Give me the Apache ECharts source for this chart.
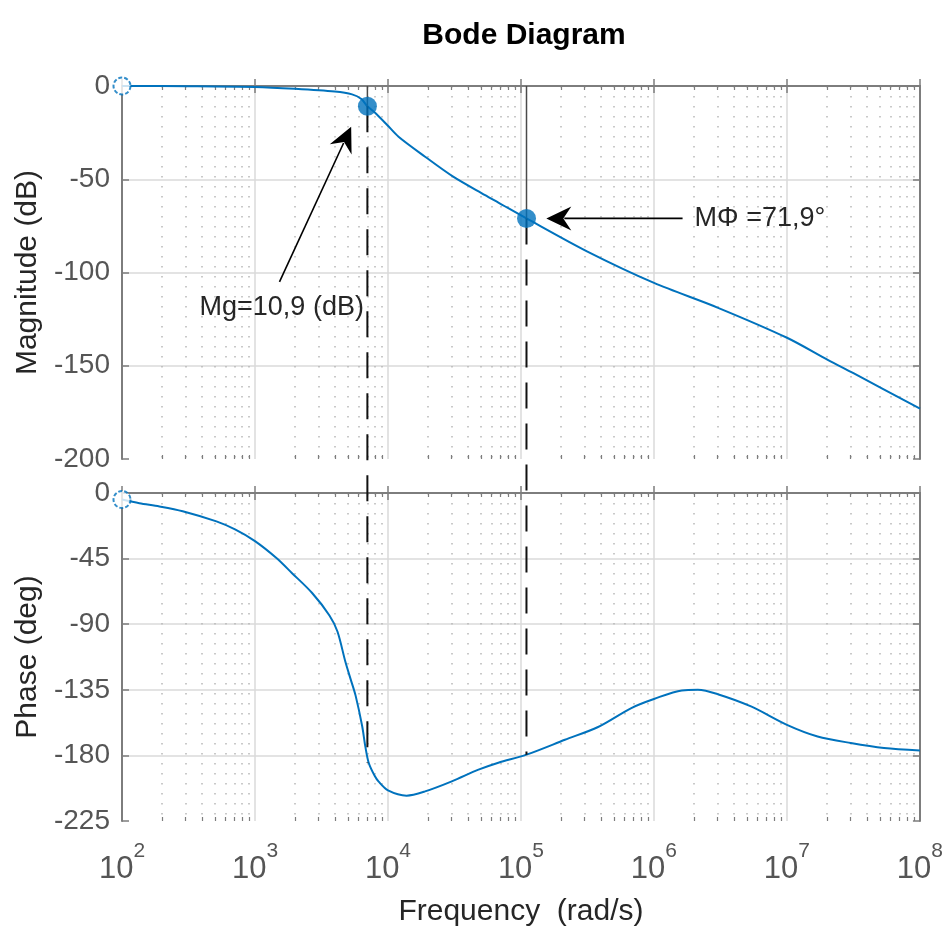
<!DOCTYPE html>
<html><head><meta charset="utf-8">
<script src="https://cdn.jsdelivr.net/npm/echarts@6/dist/echarts.min.js"></script>
<style>html,body{margin:0;padding:0;background:#fff}#c{width:946px;height:932px}</style>
</head><body><div id="c"></div>
<script>
// ---- data ----
const titleText = 'Bode Diagram';
const xName = 'Frequency  (rad/s)';
const magName = 'Magnitude (dB)';
const phaseName = 'Phase (deg)';
const xTicks = [1e2, 1e3, 1e4, 1e5, 1e6, 1e7, 1e8];
const magTicks = [-200, -150, -100, -50, 0];
const phaseTicks = [-225, -180, -135, -90, -45, 0];

const magFreq = [100, 316, 1000, 2000, 3980, 5370, 6310, 7000, 8070, 9860, 12000, 19000, 30900, 53700, 67600, 110000, 316000, 1000000, 3000000, 10000000, 20400000, 31600000, 100000000];
const magDb   = [0, -0.1, -0.5, -1.5, -3, -4.5, -7, -10.9, -14.6, -20.9, -27.2, -37.9, -48.6, -58.5, -62.5, -71, -88.8, -105.6, -118.8, -135, -147, -154, -173];

const phaseFreq = [100, 135, 191, 286, 513, 708, 1000, 1450, 1900, 2690, 3630, 4170, 4790, 5250, 5710, 6400, 6760, 7160, 7940, 8510, 10000, 13800, 19000, 30200, 47900, 67600, 110000, 214000, 380000, 676000, 1000000, 1620000, 2140000, 3020000, 5370000, 10000000, 17000000, 30200000, 53700000, 100000000];
const phaseDeg  = [-4.5, -7, -9.2, -12.5, -19.5, -25, -33, -44.6, -55, -68.6, -84, -95, -116, -128, -139, -160, -174, -185, -194, -198, -204, -207.6, -204.7, -197.8, -189.8, -185, -179.5, -169.3, -160.5, -147.5, -141.3, -135.4, -135, -138, -146.4, -159, -167, -171.5, -174.9, -176.6];

// gain margin / phase margin points and annotations
const gmFreq = 7000, gmMag = -10.9, gmPhase = -185;
const pmFreq = 110000, pmMag = -71, pmPhase = -179.5;
const gmLabel = 'Mg=10,9 (dB)';
const pmLabel = 'M\u03A6 =71,9\u00B0';
const gmArrow = { tail: [1528, -105], tip: [5285, -21.8], text: [383, -119] };
const pmArrow = { tail: [1640000, -71], tip: [155000, -71], text: [2020000, -71] };

// ---- styling ----
const FONT = '"Liberation Sans", Arial, Helvetica, sans-serif';
const BLUE = '#0072BD';
const BORDER = '#7d7d7d';
const GRID_MAJOR = '#dadada';
const GRID_MINOR = '#b8b8b8';
const TICKLBL = '#555555';

const minorTicks = [];
for (let e = 2; e < 8; e++) for (let k = 2; k <= 9; k++) minorTicks.push(k * Math.pow(10, e));

function xAxes(gi, labels) {
  const base = { type: 'log', logBase: 10, min: 1e2, max: 1e8, gridIndex: gi };
  const axisLine = { show: true, lineStyle: { color: BORDER, width: 2 } };
  return [
    Object.assign({}, base, {
      position: 'bottom', axisLine: axisLine,
      axisTick: { show: true, inside: true, length: 7, customValues: xTicks, lineStyle: { color: BORDER, width: 1.5 } },
      axisLabel: labels ? {
        show: true, customValues: xTicks, margin: 20,
        formatter: v => '{b|10}{e|' + Math.round(Math.log10(v)) + '}',
        rich: {
          b: { fontSize: 31, lineHeight: 44, verticalAlign: 'bottom', color: TICKLBL, fontFamily: FONT },
          e: { fontSize: 21, lineHeight: 21, verticalAlign: 'top', color: TICKLBL, fontFamily: FONT }
        }
      } : { show: false },
      splitLine: { show: true, showMinLine: false, showMaxLine: false, lineStyle: { color: GRID_MAJOR, width: 1.5 } },
      name: labels ? xName : '', nameLocation: 'middle', nameGap: 76,
      nameTextStyle: { fontSize: 30, color: '#262626', fontFamily: FONT }
    }),
    Object.assign({}, base, {
      position: 'top', axisLine: axisLine,
      axisTick: { show: true, inside: true, length: 7, customValues: xTicks, lineStyle: { color: BORDER, width: 1.5 } },
      axisLabel: { show: false }, splitLine: { show: false }
    }),
    Object.assign({}, base, {
      position: 'bottom', axisLine: { show: false },
      axisTick: { show: true, inside: true, length: 4, customValues: minorTicks, lineStyle: { color: BORDER, width: 1.2 } },
      axisLabel: { show: false },
      splitLine: { show: true, lineStyle: { color: GRID_MINOR, width: 1.5, type: [1.5, 8.5] } }
    }),
    Object.assign({}, base, {
      position: 'top', axisLine: { show: false },
      axisTick: { show: true, inside: true, length: 4, customValues: minorTicks, lineStyle: { color: BORDER, width: 1.2 } },
      axisLabel: { show: false }, splitLine: { show: false }
    })
  ];
}

function yAxes(gi, ticks, name) {
  const mn = ticks[0], mx = ticks[ticks.length - 1], iv = ticks[1] - ticks[0];
  const axisLine = { show: true, lineStyle: { color: BORDER, width: 2 } };
  return [
    { type: 'value', gridIndex: gi, min: mn, max: mx, interval: iv, position: 'left', axisLine: axisLine,
      axisTick: { show: true, inside: true, length: 7, lineStyle: { color: BORDER, width: 1.5 } },
      axisLabel: { show: true, fontSize: 28, color: TICKLBL, margin: 12, fontFamily: FONT },
      splitLine: { show: true, showMinLine: false, showMaxLine: false, lineStyle: { color: GRID_MAJOR, width: 1.5 } },
      name: name, nameLocation: 'middle', nameGap: 76,
      nameTextStyle: { fontSize: 30, color: '#262626', fontFamily: FONT } },
    { type: 'value', gridIndex: gi, min: mn, max: mx, interval: iv, position: 'right', axisLine: axisLine,
      axisTick: { show: true, inside: true, length: 7, lineStyle: { color: BORDER, width: 1.5 } },
      axisLabel: { show: false }, splitLine: { show: false } }
  ];
}

const chart = echarts.init(document.getElementById('c'), null, { renderer: 'canvas' });
const magData = magFreq.map((f, i) => [f, magDb[i]]);
const phaseData = phaseFreq.map((f, i) => [f, phaseDeg[i]]);

chart.setOption({
  animation: false,
  backgroundColor: '#fff',
  title: { text: titleText, left: 519, top: 16, textAlign: 'center',
    textStyle: { fontSize: 30, fontWeight: 'bold', color: '#000', fontFamily: FONT } },
  grid: [
    { left: 122, top: 86, width: 798, height: 373 },
    { left: 122, top: 493, width: 798, height: 328 }
  ],
  xAxis: xAxes(0, false).concat(xAxes(1, true)),
  yAxis: yAxes(0, magTicks, magName).concat(yAxes(1, phaseTicks, phaseName)),
  series: [
    { type: 'line', xAxisIndex: 0, yAxisIndex: 0, data: magData, showSymbol: false, smooth: 0.3,
      lineStyle: { color: BLUE, width: 2 }, z: 3 },
    { type: 'line', xAxisIndex: 4, yAxisIndex: 2, data: phaseData, showSymbol: false, smooth: 0.3,
      lineStyle: { color: BLUE, width: 2 }, z: 3 },
    { type: 'scatter', xAxisIndex: 0, yAxisIndex: 0, data: [magData[0]], symbol: 'circle', symbolSize: 17,
      itemStyle: { color: '#fff', borderColor: BLUE, borderWidth: 2, borderType: [4, 2] }, z: 5 },
    { type: 'scatter', xAxisIndex: 4, yAxisIndex: 2, data: [phaseData[0]], symbol: 'circle', symbolSize: 17,
      itemStyle: { color: '#fff', borderColor: BLUE, borderWidth: 2, borderType: [4, 2] }, z: 5 },
    { type: 'scatter', xAxisIndex: 0, yAxisIndex: 0, data: [[gmFreq, gmMag], [pmFreq, pmMag]], symbol: 'circle', symbolSize: 19,
      itemStyle: { color: BLUE }, z: 6 }
  ]
});

// ---- annotations placed through the chart's own scales ----
const pTop = (f, v) => chart.convertToPixel({ xAxisIndex: 0, yAxisIndex: 0 }, [f, v]);
const pBot = (f, v) => chart.convertToPixel({ xAxisIndex: 4, yAxisIndex: 2 }, [f, v]);

function arrowHead(tip, tail) {
  const ang = Math.atan2(tip[1] - tail[1], tip[0] - tail[0]);
  const L = 25, W = 12, N = 17;
  const rot = (dx, dy) => [tip[0] + dx * Math.cos(ang) - dy * Math.sin(ang), tip[1] + dx * Math.sin(ang) + dy * Math.cos(ang)];
  return { type: 'polygon', shape: { points: [rot(0, 0), rot(-L, -W), rot(-N, 0), rot(-L, W)] }, style: { fill: '#000' }, z: 10 };
}

const els = [];
[[gmFreq, gmMag, gmPhase], [pmFreq, pmMag, pmPhase]].forEach(([f, m, p]) => {
  const a = pTop(f, magTicks[magTicks.length - 1]);
  const b = pTop(f, m);
  const c = pBot(f, p);
  els.push({ type: 'line', shape: { x1: a[0], y1: a[1], x2: b[0], y2: b[1] }, style: { stroke: '#4a4a4a', lineWidth: 1.5 }, z: 4 });
  els.push({ type: 'line', shape: { x1: b[0], y1: b[1], x2: c[0], y2: c[1] }, style: { stroke: '#111', lineWidth: 2, lineDash: [26, 15] }, z: 4 });
});
[gmArrow, pmArrow].forEach(ar => {
  const t = pTop(ar.tail[0], ar.tail[1]);
  const h = pTop(ar.tip[0], ar.tip[1]);
  const ang = Math.atan2(h[1] - t[1], h[0] - t[0]);
  const h2 = [h[0] - 18 * Math.cos(ang), h[1] - 18 * Math.sin(ang)];
  els.push({ type: 'line', shape: { x1: t[0], y1: t[1], x2: h2[0], y2: h2[1] }, style: { stroke: '#000', lineWidth: 1.6 }, z: 10 });
  els.push(arrowHead(h, t));
});
const gt = pTop(gmArrow.text[0], gmArrow.text[1]);
const pt = pTop(pmArrow.text[0], pmArrow.text[1]);
els.push({ type: 'text', x: gt[0], y: gt[1], style: { text: gmLabel, fontSize: 27, fontFamily: FONT, fill: '#262626', align: 'left', verticalAlign: 'middle' }, z: 10 });
els.push({ type: 'text', x: pt[0], y: pt[1], style: { text: pmLabel, fontSize: 27, fontFamily: FONT, fill: '#262626', align: 'left', verticalAlign: 'middle' }, z: 10 });
chart.setOption({ graphic: { elements: els } });
</script>
</body></html>
